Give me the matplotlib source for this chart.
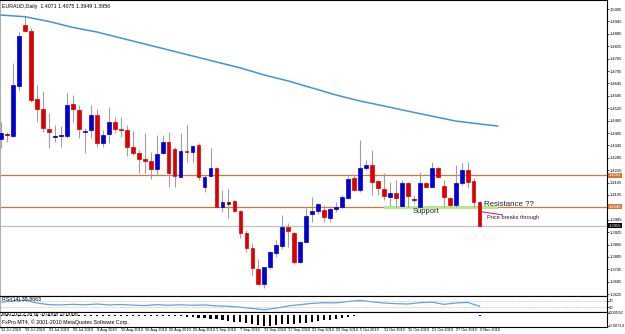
import matplotlib
matplotlib.use("Agg")
import matplotlib.pyplot as plt
from matplotlib.patches import Rectangle

plt.rcParams['font.family'] = ['Liberation Sans', 'DejaVu Sans']

# chart data
title_text = "EURAUD,Daily  1.4071 1.4075 1.3949 1.3956"

opens = [1.4376, 1.4400, 1.4392, 1.4632, 1.4928, 1.4900, 1.4569, 1.4520, 1.4424, 1.4386,
         1.4390, 1.4392, 1.4544, 1.4516, 1.4408, 1.4419, 1.4492, 1.4355, 1.4399, 1.4460,
         1.4426, 1.4419, 1.4336, 1.4307, 1.4278, 1.4271, 1.4229, 1.4307, 1.4360, 1.4327,
         1.4193, 1.4318, 1.4314, 1.4347, 1.4142, 1.4197, 1.4234, 1.4045, 1.4069, 1.4076,
         1.4027, 1.3919, 1.3847, 1.3747, 1.3674, 1.3758, 1.3826, 1.3859, 1.3948, 1.3922,
         1.3779, 1.3879, 1.4011, 1.4027, 1.4032, 1.3992, 1.4036, 1.4045, 1.4089, 1.4186,
         1.4129, 1.4237, 1.4250, 1.4173, 1.4134, 1.4097, 1.4113, 1.4052, 1.4161, 1.4085,
         1.4047, 1.4164, 1.4145, 1.4237, 1.4148, 1.4089, 1.4056, 1.4161, 1.4226, 1.4174,
         1.4071]
highs = [1.4460, 1.4411, 1.4742, 1.4895, 1.4971, 1.4912, 1.4637, 1.4608, 1.4500, 1.4444,
         1.4439, 1.4597, 1.4589, 1.4540, 1.4428, 1.4540, 1.4520, 1.4419, 1.4532, 1.4484,
         1.4481, 1.4444, 1.4416, 1.4323, 1.4406, 1.4314, 1.4395, 1.4395, 1.4411, 1.4339,
         1.4403, 1.4444, 1.4347, 1.4355, 1.4202, 1.4331, 1.4242, 1.4129, 1.4132, 1.4081,
         1.4032, 1.3935, 1.3871, 1.3794, 1.3758, 1.3835, 1.3887, 1.4008, 1.3971, 1.3927,
         1.3884, 1.4043, 1.4097, 1.4066, 1.4056, 1.4052, 1.4072, 1.4105, 1.4197, 1.4202,
         1.4371, 1.4274, 1.4323, 1.4177, 1.4210, 1.4169, 1.4177, 1.4177, 1.4169, 1.4105,
         1.4218, 1.4169, 1.4266, 1.4242, 1.4177, 1.4097, 1.4250, 1.4261, 1.4266, 1.4186,
         1.4075]
lows = [1.4331, 1.4363, 1.4387, 1.4613, 1.4895, 1.4556, 1.4460, 1.4411, 1.4331, 1.4363,
        1.4339, 1.4379, 1.4460, 1.4379, 1.4307, 1.4379, 1.4339, 1.4339, 1.4355, 1.4403,
        1.4387, 1.4295, 1.4298, 1.4210, 1.4210, 1.4181, 1.4202, 1.4303, 1.4145, 1.4142,
        1.4190, 1.4266, 1.4266, 1.4177, 1.4121, 1.4190, 1.4045, 1.4024, 1.3992, 1.4024,
        1.3895, 1.3830, 1.3718, 1.3669, 1.3653, 1.3745, 1.3806, 1.3843, 1.3855, 1.3771,
        1.3774, 1.3876, 1.3976, 1.4013, 1.3976, 1.3976, 1.4024, 1.4040, 1.4085, 1.4126,
        1.4121, 1.4226, 1.4105, 1.4105, 1.4081, 1.4052, 1.4045, 1.4045, 1.4045, 1.4065,
        1.4045, 1.4137, 1.4142, 1.4190, 1.4045, 1.4045, 1.4045, 1.4153, 1.4137, 1.4045,
        1.3949]
closes = [1.4403, 1.4394, 1.4637, 1.4876, 1.4899, 1.4565, 1.4520, 1.4428, 1.4408, 1.4392,
          1.4395, 1.4540, 1.4520, 1.4423, 1.4416, 1.4492, 1.4355, 1.4395, 1.4457, 1.4423,
          1.4419, 1.4336, 1.4307, 1.4278, 1.4271, 1.4229, 1.4303, 1.4360, 1.4210, 1.4197,
          1.4319, 1.4311, 1.4342, 1.4190, 1.4193, 1.4234, 1.4048, 1.4069, 1.4063, 1.4029,
          1.3919, 1.3847, 1.3750, 1.3674, 1.3755, 1.3827, 1.3863, 1.3951, 1.3931, 1.3779,
          1.3879, 1.4005, 1.4027, 1.4061, 1.3997, 1.4036, 1.4045, 1.4094, 1.4181, 1.4129,
          1.4234, 1.4250, 1.4169, 1.4140, 1.4100, 1.4113, 1.4092, 1.4161, 1.4100, 1.4081,
          1.4164, 1.4142, 1.4237, 1.4193, 1.4094, 1.4056, 1.4161, 1.4226, 1.4169, 1.4069,
          1.3956]

ma_idx = [0, 4, 8, 12, 16, 20, 24, 28, 32, 36, 40, 44, 48, 52, 56, 60, 64, 68, 72, 76, 80, 83]
ma_vals = [1.4976, 1.4968, 1.4945, 1.4916, 1.4894, 1.4865, 1.4836, 1.4807, 1.4778, 1.4749,
           1.4720, 1.4686, 1.4657, 1.4623, 1.4589, 1.4560, 1.4536, 1.4511, 1.4487, 1.4463,
           1.4449, 1.4439]

resistance_level = 1.4201
support_level = 1.4049
last_price = 1.3956

rsi_idx = [0, 2, 4, 6, 8, 10, 12, 14, 16, 18, 20, 22, 24, 26, 28, 30, 32, 34, 36, 38, 40,
           42, 44, 46, 48, 50, 52, 54, 56, 58, 60, 62, 64, 66, 68, 70, 72, 74, 76, 78, 80]
rsi_vals = [62, 68, 74, 56, 46, 44, 48, 45, 50, 44, 47, 43, 40, 46, 42, 45, 42, 44, 38, 36, 30,
            22, 14, 24, 38, 46, 54, 58, 57, 66, 72, 64, 56, 52, 50, 58, 62, 48, 56, 60, 36]

macd_hist = [-0.0008, -0.0008, -0.0007, -0.0008, -0.0008, -0.0008, -0.0007, -0.0008, -0.0008, -0.0008,
             -0.0008, -0.0007, -0.0008, -0.0008, -0.0008, -0.0008, -0.0007, -0.0008, -0.0008, -0.0008,
             -0.0008, -0.0008, -0.0008, -0.0009, -0.0009, -0.0010, -0.0010, -0.0010, -0.0011, -0.0012,
             -0.0014, -0.0016, -0.0020, -0.0026, -0.0030, -0.0034, -0.0040, -0.0046, -0.0052, -0.0058,
             -0.0064, -0.0072, -0.0080, -0.0088, -0.0094, -0.0092, -0.0088, -0.0082, -0.0078, -0.0076,
             -0.0072, -0.0066, -0.0060, -0.0054, -0.0048, -0.0042, -0.0034, -0.0026, -0.0016, -0.0008,
             -0.0005, -0.0005, -0.0005, -0.0005, -0.0005, -0.0005, -0.0005, -0.0005, -0.0005, -0.0005,
             -0.0005, -0.0005, -0.0005, -0.0005, -0.0005, -0.0005, -0.0005, -0.0005, -0.0005, -0.0005,
             -0.0008]

date_labels = ["12 Jul 2010", "19 Jul 2010", "23 Jul 2010", "29 Jul 2010", "4 Aug 2010",
               "10 Aug 2010", "16 Aug 2010", "20 Aug 2010", "26 Aug 2010", "1 Sep 2010",
               "7 Sep 2010", "13 Sep 2010", "17 Sep 2010", "23 Sep 2010", "29 Sep 2010",
               "5 Oct 2010", "11 Oct 2010", "15 Oct 2010", "21 Oct 2010", "27 Oct 2010",
               "2 Nov 2010"]
date_idx = [0, 4, 8, 12, 16, 20, 24, 28, 32, 36, 40, 44, 48, 52, 56, 60, 64, 68, 72, 76, 80]

price_ticks = [1.5005, 1.4945, 1.4885, 1.4825, 1.4765, 1.4705, 1.4645, 1.4585, 1.4525, 1.4465,
               1.4405, 1.4345, 1.4285, 1.4225, 1.4165, 1.4105, 1.3985, 1.3925, 1.3865,
               1.3805, 1.3745, 1.3685, 1.3625]

BULL = '#0000d0'
BEAR = '#dd0000'
WICK = '#a0a0a0'
ORANGE = '#d8743a'
FS = 3.8      # panel captions
AFS = 3.0     # axis labels

fig = plt.figure(figsize=(6.25, 3.34), dpi=100)
W = 607 / 625
ax = fig.add_axes([0.0, 38 / 334, W, 296 / 334])
ax_rsi = fig.add_axes([0.0, 22 / 334, W, 16 / 334])
ax_macd = fig.add_axes([0.0, 7.5 / 334, W, 14.5 / 334])

# 101.5 bars fit across 607 px, about 6 px per bar
xlim = (-0.2, 101.3)

# candles
idx = list(range(len(closes)))
ax.vlines(idx, lows, highs, color=WICK, lw=0.8, zorder=2)
for i in idx:
    o, c = opens[i], closes[i]
    small = abs(c - o) < 0.0006
    if c >= o:
        col = '#000080' if small else BULL
    else:
        col = '#800000' if small else BEAR
    ax.bar(i, c - o, bottom=o, width=0.62, color=col, edgecolor=col, lw=0.5, zorder=3)

# moving average and horizontal lines
ax.plot(ma_idx, ma_vals, color='#3f95d8', lw=1.1, zorder=4)
ax.axhline(resistance_level, color=ORANGE, lw=0.9, zorder=1)
ax.axhline(support_level, color=ORANGE, lw=0.9, zorder=1)
ax.axhline(last_price, color='#c0c0c0', lw=0.9, zorder=1)
ax.add_patch(Rectangle((64, 1.4037), 19, 0.0015, color='#b4e88c', lw=0, zorder=1.5))

ax.text(71, 1.4025, "Support", fontsize=5.5, color='#222222', ha='center', va='center')
ax.text(80.8, 1.4057, "Resistance ??", fontsize=5.7, color='#222222', ha='left', va='center')
ax.plot([80, 83.8], [1.4025, 1.4009], color='#d020d0', lw=0.8)
ax.text(81.3, 1.3998, "Price breaks through", fontsize=4.1, color='#222222', ha='left', va='center')
ax.text(0.004, 0.988, title_text, transform=ax.transAxes, fontsize=FS, va='top', ha='left')

ax.set_xlim(*xlim)
ax.set_ylim(1.3616, 1.5049)
ax.set_xticks([])
ax.yaxis.tick_right()
ax.set_yticks(price_ticks)
ax.set_yticklabels(['%.4f' % p for p in price_ticks])
ax.tick_params(axis='y', labelsize=AFS, length=1.2, width=0.5, pad=0.4)

for lvl, bg in [(resistance_level, ORANGE), (support_level, ORANGE), (last_price, 'black')]:
    ax.annotate('%.4f' % lvl, xy=(1.0, lvl), xycoords=('axes fraction', 'data'),
                xytext=(1.3, 0), textcoords='offset points', fontsize=AFS, color='white',
                va='center', ha='left', annotation_clip=False,
                bbox=dict(boxstyle='square,pad=0.1', fc=bg, ec='none'))

# RSI panel
ax_rsi.plot(rsi_idx, rsi_vals, color='#5aa5dc', lw=0.9)
ax_rsi.axhline(70, color='#b0b0b0', lw=0.5, ls=(0, (2, 2)))
ax_rsi.axhline(30, color='#b0b0b0', lw=0.5, ls=(0, (2, 2)))
ax_rsi.set_xlim(*xlim)
ax_rsi.set_ylim(0, 100)
ax_rsi.set_xticks([])
ax_rsi.yaxis.tick_right()
ax_rsi.set_yticks([70, 30])
ax_rsi.tick_params(axis='y', labelsize=AFS, length=1.2, width=0.5, pad=0.4)
ax_rsi.text(0.004, 0.93, "RSI(14) 35.8663", transform=ax_rsi.transAxes, fontsize=FS, va='top')

# MACD panel
ax_macd.bar(idx, macd_hist, width=0.35, color='black', lw=0)
ax_macd.set_xlim(*xlim)
ax_macd.set_ylim(-0.0100, 0.0024)
ax_macd.yaxis.tick_right()
ax_macd.set_yticks([0.0018, -0.0092])
ax_macd.set_yticklabels(['0.00592', '-0.00713'])
ax_macd.tick_params(axis='y', labelsize=AFS, length=1.2, width=0.5, pad=0.4)
ax_macd.text(0.004, 0.97, "MACD(12,26,9) -0.0008 -0.0006", transform=ax_macd.transAxes,
             fontsize=FS, va='top')
ax_macd.text(0.004, 0.3, "FxPro MT4, \u00a9 2001-2010 MetaQuotes Software Corp.",
             transform=ax_macd.transAxes, fontsize=FS, va='center')
ax_macd.set_xticks(date_idx)
ax_macd.set_xticklabels(date_labels, ha='left')
ax_macd.tick_params(axis='x', labelsize=2.8, length=1, width=0.5, pad=0.3)

for a in (ax, ax_rsi, ax_macd):
    for s in a.spines.values():
        s.set_linewidth(0.8)
        s.set_color('black')
    a.spines['left'].set_color('#b0b0b0')

fig.savefig("out.png", dpi=100)
